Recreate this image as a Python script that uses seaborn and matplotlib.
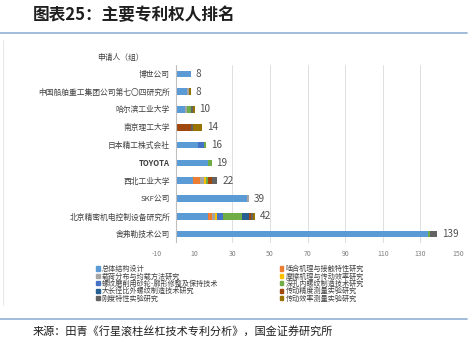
import numpy as np
import pandas as pd
import matplotlib
matplotlib.use("Agg")
import matplotlib.pyplot as plt
from matplotlib.lines import Line2D
import seaborn as sns

sns.set_theme(style="white")
plt.rcParams['font.family'] = ['Noto Sans CJK SC', 'DejaVu Sans']

categories = ["博世公司", "中国船舶重工集团公司第七〇四研究所", "哈尔滨工业大学", "南京理工大学",
              "日本精工株式会社", "TOYOTA", "西北工业大学", "SKF公司",
              "北京精密机电控制设备研究所", "舍弗勒技术公司"]

series_names = ["总体结构设计", "啮合机理与接触特性研究", "载荷分布与均载方法研究",
                "摩擦机理与传动效率研究", "螺纹磨削用砂轮-廓形修整及保持技术",
                "深孔内螺纹制造技术研究", "大长径比外螺纹制造技术研究",
                "传动精度测量实验研究", "刚度特性实验研究", "传动效率测量实验研究"]

s_structure = [8, 6, 5, 0, 12, 17, 9, 38, 17, 134]
s_mesh      = [0, 0, 0, 0, 0, 0, 4, 0, 2, 0]
s_load      = [0, 1, 1, 0, 0, 0, 2, 1, 2, 0]
s_friction  = [0, 0, 0, 0, 0, 0, 1, 0, 1, 0]
s_grinding  = [0, 0, 0, 0, 3, 0, 0, 0, 3, 0]
s_deephole  = [0, 0, 2, 0, 1, 2, 1, 0, 10, 1]
s_longscrew = [0, 0, 0, 0, 0, 0, 0, 0, 4, 0]
s_accuracy  = [0, 0, 0, 8, 0, 0, 2, 0, 1, 0]
s_stiffness = [0, 0, 1, 1, 0, 0, 3, 0, 1, 4]
s_effmeas   = [0, 1, 1, 5, 0, 0, 0, 0, 1, 0]

series_values = [s_structure, s_mesh, s_load, s_friction, s_grinding,
                 s_deephole, s_longscrew, s_accuracy, s_stiffness, s_effmeas]

colors = ["#5B9BD5", "#ED7D31", "#A5A5A5", "#FFC000", "#4472C4",
          "#70AD47", "#255E91", "#9E480E", "#636363", "#997300"]

x_ticks = [-10, 10, 30, 50, 70, 90, 110, 130, 150]

df = pd.DataFrame(dict(zip(series_names, series_values)))
df.insert(0, "applicant", categories)
cum = df[series_names].cumsum(axis=1)

fig = plt.figure(figsize=(4.73, 3.43), dpi=100)
ax = fig.add_axes([157/473, 1 - 243/343, (458 - 157)/473, (243 - 65)/343])

# draw stacked bars: largest cumulative first
for i in range(len(series_names) - 1, -1, -1):
    sns.barplot(x=cum[series_names[i]], y=df["applicant"], color=colors[i],
                orient="h", width=0.38, ax=ax, saturation=1, linewidth=0)

ax.set_xlim(-10, 150)
ax.set_xticks(x_ticks)
ax.set_xticklabels([str(t) for t in x_ticks], fontsize=5, color="#7f7f7f")
ax.tick_params(axis="x", length=0, pad=5)
ax.tick_params(axis="y", length=0, pad=-9.4)
for t in ax.get_yticklabels():
    t.set_fontsize(5.6)
    t.set_color("#404040")
    if t.get_text() in ("TOYOTA",):
        t.set_fontweight("bold")
ax.set_xlabel("")
ax.set_ylabel("")
for s in ax.spines.values():
    s.set_visible(False)

# gridlines (only right of axis)
for t in x_ticks:
    if t > 10:
        ax.axvline(t, color="#d9d9d9", lw=0.6, zorder=0)
ax.axvline(0, color="#bfbfbf", lw=0.8, zorder=3)

totals = cum[series_names[-1]].tolist()
ax.bar_label(ax.containers[0], labels=[str(int(v)) for v in totals],
             padding=3.5, fontsize=7.2, color="#505050")

# y-axis header
fig.text(120/473, 1 - 58/343, "申请人（组）", fontsize=5.6, color="#404040",
         ha="center", va="center")

# legend
handles = [plt.Rectangle((0, 0), 1, 1, color=c) for c in colors]
order = [0, 2, 4, 6, 8, 1, 3, 5, 7, 9]
leg = fig.legend([handles[i] for i in order], [series_names[i] for i in order],
                 ncol=2, loc="upper left", bbox_to_anchor=(96/473, 1 - 265/343),
                 frameon=False, fontsize=5.1, handlelength=0.5, handleheight=0.5,
                 handletextpad=0.3, labelspacing=-0.08, columnspacing=8.7,
                 borderpad=0, borderaxespad=0)
for t in leg.get_texts():
    t.set_color("#404040")

# title and decorations
fig.text(33/473, 1 - 15/343, "图表25：主要专利权人排名", fontsize=12, fontweight="bold",
         color="#1f1f1f", ha="left", va="center")
fig.add_artist(Line2D([0, 467/473], [1 - 33/343, 1 - 33/343], color="#8fb0cf", lw=1.2))
fig.add_artist(Line2D([0, 467/473], [1 - 319/343, 1 - 319/343], color="#8fb0cf", lw=1.2))
fig.add_artist(Line2D([3/473, 3/473], [1 - 40/343, 1 - 305/343], color="#e3e3e3", lw=0.6))
fig.text(33/473, 1 - 332/343, "来源：田青《行星滚柱丝杠技术专利分析》，国金证券研究所",
         fontsize=8, color="#1f1f1f", ha="left", va="center")

fig.savefig("out.png", dpi=100)
